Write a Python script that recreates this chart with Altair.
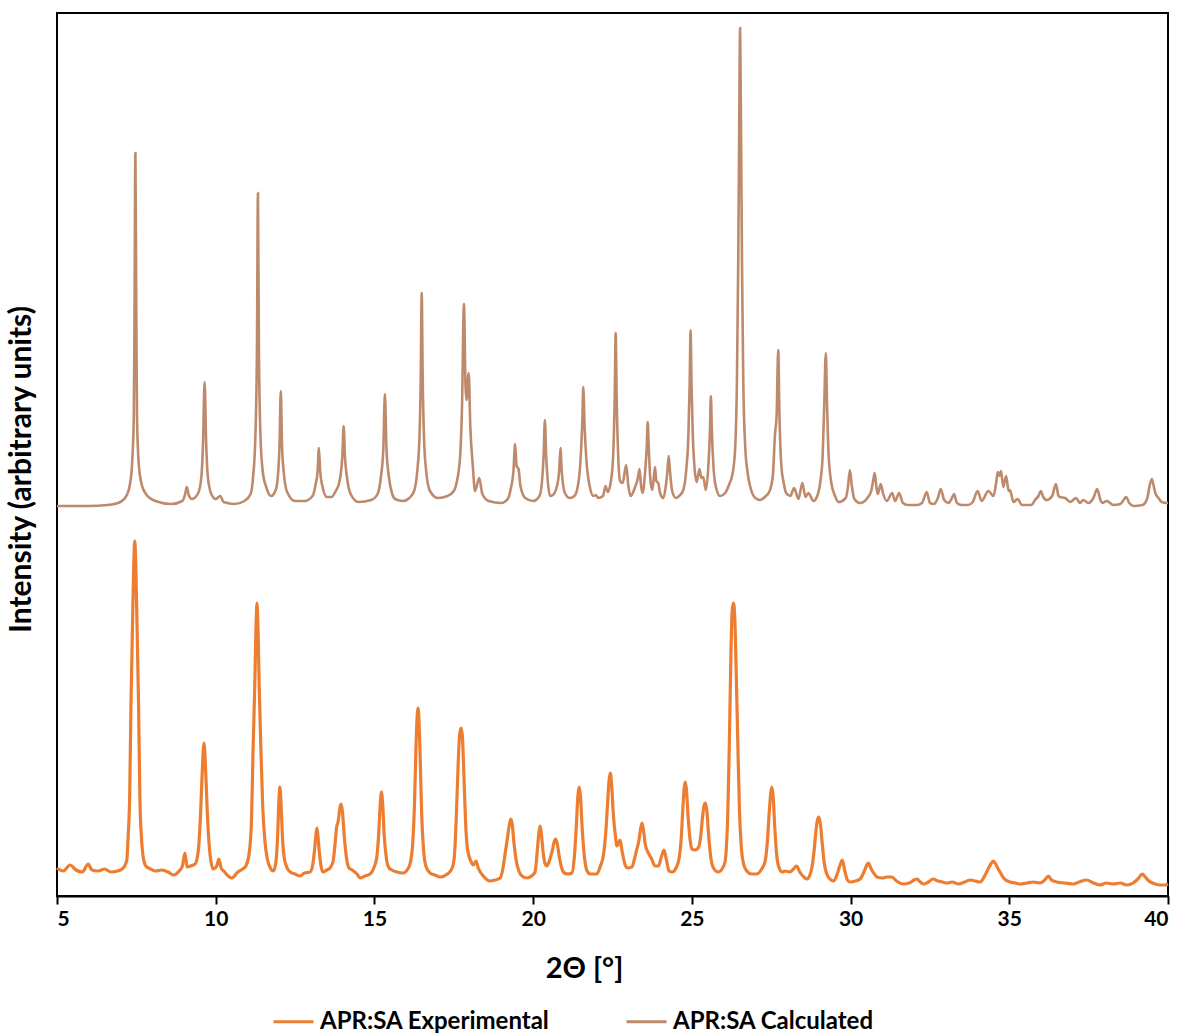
import altair as alt
import pandas as pd

# ---- data (2-theta in degrees, intensity in arbitrary units) ----
calc_x = [5.0, 6.0, 6.6, 7.0, 7.2, 7.3, 7.37, 7.42, 7.44, 7.47, 7.50, 7.52, 7.57, 7.65, 7.8, 8.1, 8.6,
          8.95, 9.03, 9.09, 9.15, 9.25, 9.45, 9.55, 9.6, 9.65, 9.70, 9.75, 9.85, 10.0, 10.14, 10.25, 10.6,
          10.9, 11.1, 11.18, 11.25, 11.30, 11.33, 11.36, 11.41, 11.48, 11.6, 11.75, 11.9, 11.97, 12.01,
          12.05, 12.09, 12.14, 12.25, 12.5, 12.8, 13.05, 13.15, 13.21, 13.25, 13.29, 13.36, 13.5, 13.65,
          13.78, 13.87, 13.93, 13.99, 14.03, 14.07, 14.13, 14.25, 14.5, 14.9, 15.1, 15.2, 15.28, 15.33,
          15.38, 15.46, 15.56, 15.65, 15.9, 16.1, 16.25, 16.35, 16.42, 16.46, 16.49, 16.52, 16.56, 16.63,
          16.75, 17.0, 17.3, 17.5, 17.6, 17.7, 17.76, 17.82, 17.87, 17.90, 17.97, 18.02, 18.1, 18.17,
          18.30, 18.4, 18.6, 19.0, 19.2, 19.3, 19.38, 19.43, 19.48, 19.54, 19.6, 19.75, 20.0, 20.2, 20.28,
          20.33, 20.37, 20.41, 20.47, 20.53, 20.62, 20.75, 20.82, 20.86, 20.90, 21.0, 21.15, 21.3, 21.42,
          21.5, 21.55, 21.58, 21.62, 21.68, 21.78, 21.9, 21.97, 22.05, 22.2, 22.28, 22.35, 22.45, 22.52,
          22.57, 22.60, 22.63, 22.68, 22.74, 22.82, 22.93, 23.0, 23.07, 23.2, 23.3, 23.35, 23.4, 23.45,
          23.53, 23.58, 23.61, 23.64, 23.69, 23.75, 23.8, 23.84, 23.88, 23.94, 24.0, 24.1, 24.18, 24.23,
          24.27, 24.31, 24.38, 24.5, 24.6, 24.73, 24.82, 24.89, 24.93, 24.96, 24.99, 25.03, 25.08, 25.15,
          25.24, 25.3, 25.36, 25.44, 25.52, 25.57, 25.60, 25.63, 25.68, 25.75, 25.89, 26.05, 26.18, 26.28,
          26.36, 26.42, 26.46, 26.49, 26.52, 26.55, 26.58, 26.62, 26.68, 26.75, 26.85, 27.0, 27.15, 27.3,
          27.45, 27.55, 27.62, 27.67, 27.72, 27.76, 27.82, 27.9, 27.97, 28.1, 28.22, 28.36, 28.48, 28.58,
          28.67, 28.83, 28.95, 29.05, 29.12, 29.17, 29.22, 29.26, 29.31, 29.4, 29.5, 29.62, 29.85, 29.92,
          29.98, 30.04, 30.12, 30.3, 30.53, 30.65, 30.71, 30.76, 30.81, 30.86, 30.95, 31.02, 31.14, 31.31,
          31.4, 31.53, 31.65, 31.8, 32.1, 32.25, 32.40, 32.5, 32.62, 32.75, 32.84, 32.95, 33.08, 33.18,
          33.26, 33.35, 33.5, 33.7, 33.85, 34.0, 34.13, 34.34, 34.5, 34.58, 34.64, 34.69, 34.74, 34.81,
          34.9, 34.98, 35.02, 35.13, 35.26, 35.4, 35.7, 35.81, 35.92, 35.99, 36.07, 36.18, 36.35, 36.47,
          36.55, 36.6, 36.76, 36.92, 37.1, 37.23, 37.33, 37.49, 37.65, 37.77, 37.87, 37.93, 38.07, 38.28,
          38.5, 38.6, 38.68, 38.78, 38.91, 39.2, 39.35, 39.42, 39.49, 39.55, 39.6, 39.7, 39.8, 39.97, 40.0]
calc_y = [390, 390, 391, 394, 401, 412, 435, 480, 570, 743, 570, 480, 435, 414, 402, 395, 392,
          395, 401, 409, 401, 397, 403, 420, 452, 514, 452, 420, 403, 397, 400, 394, 392,
          395, 402, 420, 460, 550, 703, 550, 460, 425, 408, 400, 407, 425, 450,
          505, 450, 425, 404, 395, 395, 400, 412, 425, 448, 425, 410, 399, 399,
          405, 411, 420, 440, 470, 440, 420, 402, 394, 396, 402, 418, 447, 502,
          447, 418, 402, 397, 395, 398, 405, 425, 460, 520, 603, 520, 460, 425,
          405, 398, 400, 405, 415, 440, 490, 592, 510, 496, 523, 470, 430, 405,
          418, 402, 395, 393, 397, 408, 425, 452, 430, 427, 410, 398, 395, 400, 415,
          440, 476, 440, 412, 400, 401, 410, 425, 448, 425, 403, 398, 400, 412,
          440, 475, 509, 470, 435, 410, 400, 401, 398, 400, 410, 404, 415, 440,
          500, 563, 500, 440, 415, 413, 431, 410, 400, 408, 418, 427, 410, 403,
          425, 450, 474, 450, 418, 406, 418, 429, 415, 413, 403, 398, 410, 425,
          440, 425, 405, 398, 400, 406, 425, 460, 510, 566, 510, 460, 430, 414,
          427, 418, 419, 406, 430, 465, 500, 465, 430, 410, 400, 403, 412, 422,
          445, 515, 630, 760, 868, 760, 630, 515, 450, 425, 408, 398, 396, 399,
          405, 420, 462, 480, 546, 480, 430, 412, 403, 400, 408, 397, 413, 399,
          403, 395, 400, 415, 440, 490, 543, 490, 440, 412, 401, 394, 398, 410,
          426, 410, 397, 393, 398, 405, 415, 423, 410, 402, 412, 403, 395, 403,
          395, 403, 393, 391, 391, 393, 404, 393, 392, 398, 407, 396, 393, 397,
          402, 393, 391, 391, 394, 405, 395, 405, 400, 412, 424, 420, 425, 409,
          420, 405, 406, 394, 397, 391, 391, 396, 400, 405, 399, 396, 400, 412,
          400, 399, 398, 394, 398, 393, 396, 393, 398, 407, 396, 393, 395, 391,
          392, 396, 399, 393, 390, 391, 398, 410, 417, 410, 403, 398, 394, 393, 393]

exp_x = [5.0, 5.2, 5.41, 5.6, 5.8, 5.98, 6.1, 6.3, 6.5, 6.7, 6.9, 7.05, 7.13, 7.2, 7.24, 7.29, 7.33,
         7.39, 7.45, 7.51, 7.57, 7.61, 7.66, 7.72, 7.8, 7.95, 8.1, 8.3, 8.5, 8.66, 8.85, 8.95, 9.03, 9.1,
         9.2, 9.35, 9.45, 9.52, 9.57, 9.63, 9.69, 9.74, 9.81, 9.92, 10.03, 10.10, 10.17, 10.25, 10.5,
         10.7, 10.85, 10.95, 11.05, 11.12, 11.18, 11.23, 11.27, 11.30, 11.33, 11.37, 11.42, 11.48, 11.55,
         11.62, 11.72, 11.82, 11.9, 11.95, 11.99, 12.02, 12.06, 12.1, 12.16, 12.25, 12.35, 12.5, 12.66,
         12.8, 12.97, 13.05, 13.11, 13.16, 13.19, 13.22, 13.27, 13.33, 13.38, 13.5, 13.6, 13.7, 13.76,
         13.81, 13.86, 13.91, 13.95, 13.99, 14.05, 14.12, 14.2, 14.3, 14.45, 14.55, 14.7, 14.86, 14.98,
         15.07, 15.13, 15.18, 15.22, 15.26, 15.31, 15.38, 15.46, 15.55, 15.7, 15.91, 16.05, 16.12, 16.2,
         16.26, 16.31, 16.35, 16.37, 16.4, 16.44, 16.49, 16.55, 16.62, 16.75, 16.9, 17.07, 17.3, 17.45,
         17.52, 17.58, 17.63, 17.68, 17.73, 17.77, 17.82, 17.87, 17.92, 17.98, 18.05, 18.12, 18.2, 18.27,
         18.43, 18.64, 18.8, 18.96, 19.05, 19.12, 19.2, 19.26, 19.30, 19.34, 19.4, 19.47, 19.55, 19.65,
         19.8, 19.95, 20.06, 20.13, 20.18, 20.22, 20.26, 20.31, 20.37, 20.43, 20.52, 20.6, 20.66, 20.71,
         20.76, 20.83, 20.9, 20.98, 21.1, 21.22, 21.3, 21.36, 21.41, 21.45, 21.49, 21.55, 21.62, 21.7,
         21.8, 22.0, 22.12, 22.21, 22.28, 22.34, 22.39, 22.43, 22.47, 22.53, 22.6, 22.63, 22.68, 22.74,
         22.8, 22.9, 22.97, 23.11, 23.2, 23.26, 23.33, 23.38, 23.43, 23.48, 23.53, 23.63, 23.72, 23.84,
         23.95, 24.03, 24.12, 24.2, 24.28, 24.38, 24.5, 24.6, 24.67, 24.72, 24.76, 24.79, 24.83, 24.88,
         24.95, 25.0, 25.1, 25.2, 25.28, 25.34, 25.38, 25.42, 25.47, 25.53, 25.6, 25.68, 25.83, 25.95,
         26.05, 26.08, 26.13, 26.18, 26.23, 26.27, 26.31, 26.35, 26.4, 26.45, 26.5, 26.56, 26.63, 26.73,
         26.88, 27.04, 27.2, 27.31, 27.38, 27.44, 27.49, 27.52, 27.56, 27.61, 27.67, 27.75, 27.85, 27.95,
         28.09, 28.2, 28.3, 28.4, 28.5, 28.62, 28.75, 28.85, 28.9, 28.95, 29.0, 29.05, 29.1, 29.17, 29.25,
         29.35, 29.46, 29.58, 29.66, 29.74, 29.82, 29.9, 29.98, 30.15, 30.3, 30.42, 30.5, 30.56, 30.65,
         30.75, 30.83, 31.0, 31.15, 31.3, 31.45, 31.66, 31.85, 32.0, 32.09, 32.2, 32.3, 32.45, 32.6, 32.75,
         32.9, 33.03, 33.2, 33.4, 33.6, 33.77, 33.92, 34.08, 34.24, 34.35, 34.42, 34.5, 34.57, 34.65,
         34.71, 34.82, 35.02, 35.2, 35.34, 35.55, 35.76, 35.97, 36.12, 36.23, 36.33, 36.5, 36.75, 37.02,
         37.2, 37.44, 37.65, 37.86, 38.05, 38.28, 38.5, 38.7, 38.9, 39.05, 39.19, 39.28, 39.4, 39.6,
         39.75, 39.9, 40.0]
exp_y = [28, 25, 31, 26, 24, 32, 26, 25, 27, 24, 25, 27, 30, 36, 59, 100, 191,
         290, 355, 290, 191, 100, 59, 38, 30, 27, 25, 26, 24, 21, 25, 30, 43, 29,
         30, 32, 45, 80, 120, 153, 120, 80, 45, 27, 30, 37, 28, 25, 18,
         24, 27, 30, 42, 70, 150, 210, 270, 293, 270, 210, 150, 90, 55,
         38, 28, 25, 35, 60, 95, 109, 92, 60, 38, 28, 24, 22, 20,
         23, 24, 30, 45, 62, 68, 60, 42, 28, 24, 26, 28, 35, 52,
         69, 75, 88, 92, 85, 60, 38, 28, 26, 22, 18, 20, 22, 28,
         38, 60, 90, 104, 92, 60, 37, 28, 26, 24, 23, 27, 32, 50,
         90, 150, 182, 188, 178, 140, 80, 45, 30, 23, 21, 19, 22, 28,
         40, 80, 125, 160, 168, 160, 120, 75, 50, 40, 34, 31, 35, 28,
         20, 15, 16, 18, 28, 43, 60, 73, 77, 72, 52, 35, 25, 20,
         18, 20, 24, 45, 63, 70, 62, 45, 33, 30, 36, 45, 54, 57,
         52, 38, 28, 23, 22, 23, 40, 70, 100, 109, 100, 65, 38, 25,
         22, 22, 30, 40, 60, 90, 115, 123, 112, 80, 58, 50, 52, 56,
         45, 31, 28, 29, 38, 46, 55, 66, 73, 65, 52, 43, 38, 30,
         30, 38, 46, 36, 25, 24, 28, 38, 60, 90, 108, 114, 106, 80,
         55, 47, 46, 48, 60, 80, 90, 93, 86, 60, 38, 28, 24, 27,
         35, 45, 80, 150, 240, 285, 293, 280, 220, 150, 85, 48, 32, 25,
         22, 22, 27, 35, 55, 85, 104, 109, 100, 70, 42, 28, 24, 25,
         24, 27, 30, 24, 20, 17, 24, 45, 62, 75, 79, 72, 55, 33, 22,
         17, 15, 22, 30, 36, 25, 16, 14, 15, 17, 24, 30, 33, 27,
         22, 19, 18, 19, 19, 15, 12, 13, 16, 17, 14, 12, 14, 17, 15,
         14, 13, 14, 12, 14, 16, 15, 14, 21, 28, 32, 35, 32, 27,
         24, 18, 14, 13, 12, 13, 14, 13, 16, 20, 16, 14, 13, 12,
         14, 16, 13, 11, 13, 12, 13, 11, 13, 17, 22, 19, 15, 12,
         11, 11, 12]

series_names = ["APR:SA Experimental", "APR:SA Calculated"]
series_colors = ["#ED7D31", "#BE8A6C"]
x_ticks = [5, 10, 15, 20, 25, 30, 35, 40]

df_exp = pd.DataFrame({"x": exp_x, "y": exp_y, "series": series_names[0]})
df_calc = pd.DataFrame({"x": calc_x, "y": calc_y, "series": series_names[1]})

FONT = "Lato"

x_enc = alt.X("x:Q",
              scale=alt.Scale(domain=[5, 40], nice=False, zero=False),
              axis=alt.Axis(values=x_ticks, format="d", title="2Θ [°]", grid=False,
                            tickSize=8, tickWidth=2, tickColor="black",
                            domainColor="black", domainWidth=2,
                            labelFont=FONT, labelFontSize=21, labelFontWeight="bold",
                            labelColor="black", labelPadding=4, labelOverlap=False, labelBound=False,
                            titleFont=FONT, titleFontSize=29, titleFontWeight="bold", titleColor="black",
                            titleX=527, titleY=72, titleBaseline="middle", titleAlign="center"))
y_enc = alt.Y("y:Q",
              scale=alt.Scale(domain=[0, 883], nice=False),
              axis=alt.Axis(title="Intensity (arbitrary units)", labels=False, ticks=False,
                            domain=False, grid=False,
                            titleFont=FONT, titleFontSize=30, titleFontWeight="bold", titleColor="black",
                            titleAngle=270, titleX=-36, titleY=456,
                            titleAlign="center", titleBaseline="middle"))
color_enc = alt.Color("series:N",
                      scale=alt.Scale(domain=series_names, range=series_colors),
                      legend=alt.Legend(title=None, orient="none", direction="horizontal",
                                        legendX=215, legendY=987,
                                        symbolType="stroke", symbolSize=1600, symbolStrokeWidth=3,
                                        labelFont=FONT, labelFontSize=24, labelFontWeight="bold",
                                        labelColor="black", labelOffset=5, columnPadding=70,
                                        labelLimit=400))

exp_line = alt.Chart(df_exp).mark_line(strokeWidth=3.2, interpolate="monotone").encode(
    x=x_enc, y=y_enc, color=color_enc)
calc_line = alt.Chart(df_calc).mark_line(strokeWidth=2.6, interpolate="monotone").encode(
    x=x_enc, y=y_enc, color=color_enc)

chart = alt.layer(exp_line, calc_line).properties(
    width=1111,
    height=883,
    autosize=alt.AutoSizeParams(type="none"),
    padding={"left": 57, "top": 13, "right": 16, "bottom": 138},
    background="white",
).configure_view(
    stroke="black", strokeWidth=2
)

chart.save("out.html", embed_options={"renderer": "svg", "actions": False})
